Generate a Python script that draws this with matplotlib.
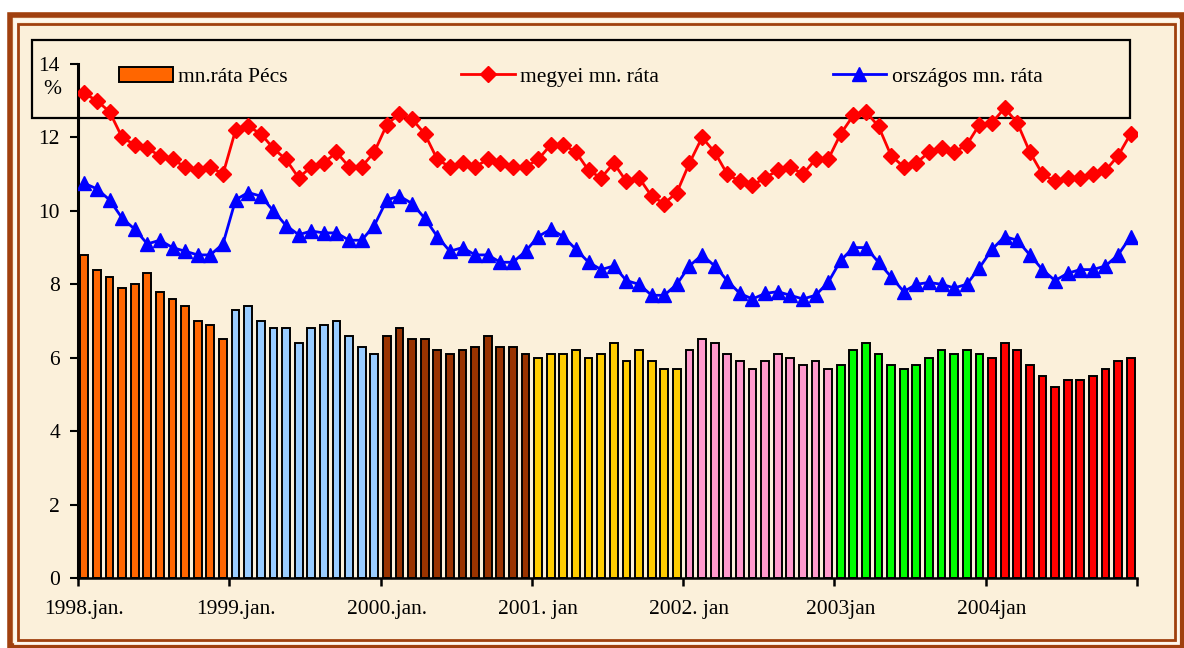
import matplotlib
matplotlib.use("Agg")
import matplotlib.pyplot as plt
from matplotlib.patches import Rectangle
import numpy as np

# ---------------- data ----------------
years = [1998, 1999, 2000, 2001, 2002, 2003, 2004]
year_labels = ["1998.jan.", "1999.jan.", "2000.jan.", "2001. jan",
               "2002. jan", "2003jan", "2004jan"]
year_colors = ["#FF6600", "#99CCFF", "#993300", "#FFCC00",
               "#FF99CC", "#00FF00", "#FF0000"]

pecs = [8.8, 8.4, 8.2, 7.9, 8.0, 8.3, 7.8, 7.6, 7.4, 7.0, 6.9, 6.5,
        7.3, 7.4, 7.0, 6.8, 6.8, 6.4, 6.8, 6.9, 7.0, 6.6, 6.3, 6.1,
        6.6, 6.8, 6.5, 6.5, 6.2, 6.1, 6.2, 6.3, 6.6, 6.3, 6.3, 6.1,
        6.0, 6.1, 6.1, 6.2, 6.0, 6.1, 6.4, 5.9, 6.2, 5.9, 5.7, 5.7,
        6.2, 6.5, 6.4, 6.1, 5.9, 5.7, 5.9, 6.1, 6.0, 5.8, 5.9, 5.7,
        5.8, 6.2, 6.4, 6.1, 5.8, 5.7, 5.8, 6.0, 6.2, 6.1, 6.2, 6.1,
        6.0, 6.4, 6.2, 5.8, 5.5, 5.2, 5.4, 5.4, 5.5, 5.7, 5.9, 6.0]

megyei = [13.2, 13.0, 12.7, 12.0, 11.8, 11.7, 11.5, 11.4, 11.2, 11.1, 11.2, 11.0,
          12.2, 12.3, 12.1, 11.7, 11.4, 10.9, 11.2, 11.3, 11.6, 11.2, 11.2, 11.6,
          12.35, 12.65, 12.5, 12.1, 11.4, 11.2, 11.3, 11.2, 11.4, 11.3, 11.2, 11.2,
          11.4, 11.8, 11.8, 11.6, 11.1, 10.9, 11.3, 10.8, 10.9, 10.4, 10.2, 10.5,
          11.3, 12.0, 11.6, 11.0, 10.8, 10.7, 10.9, 11.1, 11.2, 11.0, 11.4, 11.4,
          12.1, 12.6, 12.7, 12.3, 11.5, 11.2, 11.3, 11.6, 11.7, 11.6, 11.8, 12.35,
          12.4, 12.8, 12.4, 11.6, 11.0, 10.8, 10.9, 10.9, 11.0, 11.1, 11.5, 12.1]

orszagos = [10.75, 10.6, 10.3, 9.8, 9.5, 9.1, 9.2, 9.0, 8.9, 8.8, 8.8, 9.1,
            10.3, 10.5, 10.4, 10.0, 9.6, 9.35, 9.45, 9.4, 9.4, 9.2, 9.2, 9.6,
            10.3, 10.4, 10.2, 9.8, 9.3, 8.9, 9.0, 8.8, 8.8, 8.6, 8.6, 8.9,
            9.3, 9.5, 9.3, 8.95, 8.6, 8.4, 8.5, 8.1, 8.0, 7.7, 7.7, 8.0,
            8.5, 8.8, 8.5, 8.1, 7.75, 7.6, 7.75, 7.8, 7.7, 7.6, 7.7, 8.05,
            8.65, 9.0, 9.0, 8.6, 8.2, 7.8, 8.0, 8.05, 8.0, 7.9, 8.0, 8.45,
            8.95, 9.3, 9.2, 8.8, 8.4, 8.1, 8.3, 8.4, 8.4, 8.5, 8.8, 9.3]

y_ticks = [0, 2, 4, 6, 8, 10, 12, 14]

# ---------------- layout helpers ----------------
W, H = 1184, 648
plt.rcParams["font.family"] = ["Liberation Serif", "DejaVu Serif"]
FS = 15.5

fig = plt.figure(figsize=(W / 100, H / 100), dpi=100, facecolor="white")


def fx(px):
    return px / W


def fy(py):
    return 1 - py / H


def frect(x0, y0, x1, y1, **kw):
    r = Rectangle((fx(x0), fy(y1)), fx(x1) - fx(x0), fy(y0) - fy(y1),
                  transform=fig.transFigure, **kw)
    fig.patches.append(r)
    return r


cream = "#FBF0DA"
brown = "#A0400E"
frect(7.5, 11.5, W + 5, H + 5, facecolor=cream, edgecolor="none", zorder=-5)
frect(10, 14.5, 1181.5, 646, facecolor="none", edgecolor=brown, lw=4.0, zorder=-4)
frect(14.5, 19.5, 1178, 642.5, facecolor="none", edgecolor="#FFF8EE", lw=2.0, zorder=-4)
frect(18, 23.5, 1175, 639.5, facecolor="none", edgecolor=brown, lw=2.0, zorder=-4)

# legend box
frect(32, 40.5, 1130, 118, facecolor="none", edgecolor="black", lw=1.6, zorder=-3)

ax = fig.add_axes([fx(78), fy(578), fx(1137) - fx(78), fy(64) - fy(578)])
ax.set_facecolor("none")
ax.set_zorder(1)

n = len(pecs)
x = np.arange(n)
bar_colors = [year_colors[i // 12] for i in range(n)]

bars = ax.bar(x, pecs, width=0.62, color=bar_colors, edgecolor="black",
              linewidth=1.4, label="mn.ráta Pécs", zorder=2)
l1, = ax.plot(x, megyei, color="#FF0000", lw=2.0, marker="D", ms=8.3,
              mec="#FF0000", mfc="#FF0000", label="megyei mn. ráta", zorder=3)
l2, = ax.plot(x, orszagos, color="#0000FF", lw=2.0, marker="^", ms=10,
              mec="#0000FF", mfc="#0000FF", label="országos mn. ráta", zorder=3)

ax.set_xlim(-0.5, n - 0.5)
ax.set_ylim(0, 14)
ax.set_yticks(y_ticks)
ax.set_yticklabels([str(v) for v in y_ticks], fontsize=FS)
ax.tick_params(axis="y", direction="out", length=6, width=1.5, pad=7, colors="black")

# year boundary ticks (major, no labels) and year labels at January (minor)
ax.set_xticks(np.arange(-0.5, n, 12))
ax.set_xticklabels([])
ax.set_xticks(np.arange(0, n, 12), minor=True)
ax.set_xticklabels(year_labels, minor=True, fontsize=FS)
ax.tick_params(axis="x", which="major", direction="out", length=6, width=1.8)
ax.tick_params(axis="x", which="minor", length=0, pad=16)

for s in ["top", "right"]:
    ax.spines[s].set_visible(False)
ax.spines["left"].set_linewidth(2.2)
ax.spines["bottom"].set_linewidth(1.8)

fig.text(fx(52), fy(89), "%", fontsize=FS, ha="center", va="center")

leg = ax.legend(handles=[bars, l1, l2], ncol=3, frameon=False, fontsize=FS,
                loc="center left", bbox_to_anchor=(fx(119), fy(77)),
                bbox_transform=fig.transFigure, borderpad=0, borderaxespad=0,
                handlelength=2.5, handletextpad=0.25, columnspacing=8.05,
                handleheight=0.7)

fig.savefig("out.png", dpi=100, facecolor=fig.get_facecolor())
